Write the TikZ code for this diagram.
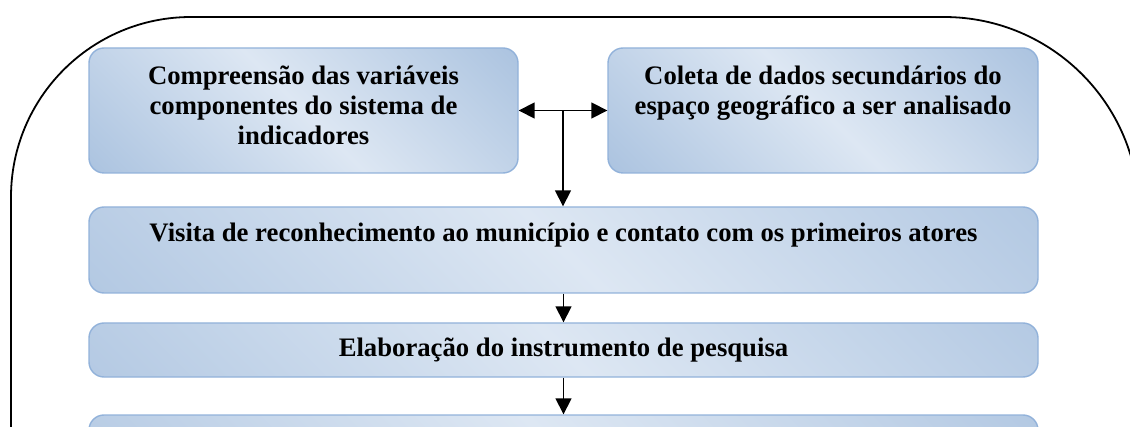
\documentclass[tikz,border=0pt]{standalone}
\usepackage{fontspec}
\setmainfont{Liberation Serif}
\usetikzlibrary{arrows.meta,calc}
\definecolor{bdark}{RGB}{149,179,215}
\definecolor{blight}{RGB}{221,231,243}
\definecolor{bedge}{RGB}{146,178,218}
\pgfdeclarehorizontalshading{boxshade}{100bp}{color(0bp)=(bdark); color(17bp)=(bdark); color(50bp)=(blight); color(83bp)=(bdark); color(100bp)=(bdark)}
\tikzset{
  stepbox/.style={rectangle, rounded corners=15pt, draw=bedge, line width=1.4pt,
    inner sep=0pt, minimum width=949pt,
    path picture={\shade[shading=boxshade, shading angle=45]
      ([shift={(-#1,-#1)}]path picture bounding box.center) rectangle
      ([shift={(#1,#1)}]path picture bounding box.center);}},
  boxtext/.style={anchor=base, inner sep=0pt,
    font=\fontsize{26.7pt}{30pt}\selectfont\bfseries},
  flow/.style={line width=1.7pt, -{Triangle[length=16pt,width=16pt]}},
  frame/.style={line width=1.8pt}
}
\begin{document}
\begin{tikzpicture}[x=1pt,y=1pt]
\useasboundingbox (0,0) rectangle (1130,426);
\clip (0,0) rectangle (1130,426);
% outer frame
\draw[frame] (11,-50) -- (11,229) arc[start angle=180,end angle=90,radius=180]
  -- (944,409) arc[start angle=90,end angle=0,radius=195] -- (1139,-50);
% boxes
\node[stepbox=215pt, minimum width=429pt, minimum height=125pt] (b1) at (303.5,315.5) {};
\node[stepbox=215pt, minimum width=430pt, minimum height=125pt] (b2) at (823,315.5) {};
\node[stepbox=475pt, minimum height=86pt] (b3) at (563.5,176) {};
\node[stepbox=475pt, minimum height=54pt] (b4) at (563.5,76) {};
\node[stepbox=475pt, minimum height=80pt] (b5) at (563.5,-29) {};
% texts
\renewcommand{\arraystretch}{1}
\setlength{\tabcolsep}{0pt}
\node[boxtext] (t1) at ([yshift=-37pt]b1.north) {\begin{tabular}[t]{c}Compreensão das variáveis\\componentes do sistema de\\indicadores\end{tabular}};
\node[boxtext] (t2) at ([yshift=-37pt]b2.north) {\begin{tabular}[t]{c}Coleta de dados secundários do\\espaço geográfico a ser analisado\end{tabular}};
\node[boxtext] (t3) at ([yshift=-35pt]b3.north) {Visita de reconhecimento ao município e contato com os primeiros atores};
\node[boxtext] (t4) at ([yshift=-34pt]b4.north) {Elaboração do instrumento de pesquisa};
% connectors
\coordinate (j) at ($(b1.east)!0.5!(b2.west)$);
\draw[flow, {Triangle[length=16pt,width=16pt]}-{Triangle[length=16pt,width=16pt]}] (b1.east) -- (b2.west);
\draw[flow] (j) -- (j |- b3.north);
\draw[flow] (b3.south) -- (b4.north);
\draw[flow] (b4.south) -- (b5.north);
\end{tikzpicture}
\end{document}
